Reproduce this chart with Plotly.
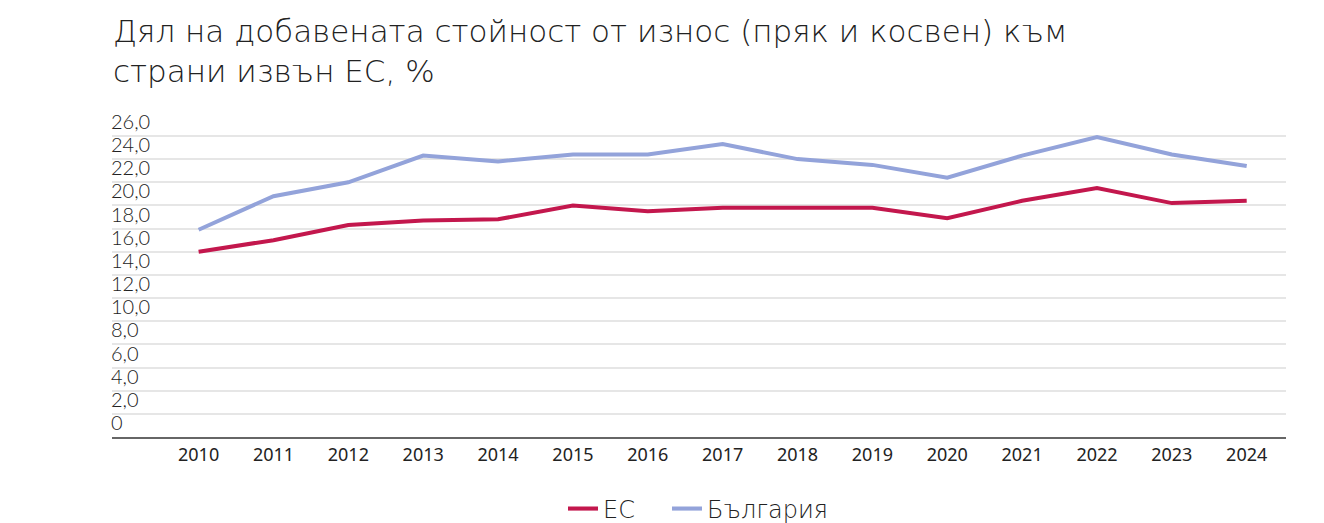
import plotly.graph_objects as go

# data
years = list(range(2010, 2025))
eu_share = [16.0, 17.0, 18.3, 18.7, 18.8, 20.0, 19.5, 19.8, 19.8, 19.8, 18.9, 20.4, 21.5, 20.2, 20.4]
bg_share = [17.9, 20.8, 22.0, 24.3, 23.8, 24.4, 24.4, 25.3, 24.0, 23.5, 22.4, 24.3, 25.9, 24.4, 23.4]
y_ticks = list(range(0, 27, 2))
y_tick_labels = ["0"] + ["%d,0" % v for v in y_ticks[1:]]

title_text = "Дял на добавената стойност от износ (пряк и косвен) към<br>страни извън ЕС, %"

# the page adds an 8px body margin, so the figure is a bit smaller than the window
W, H = 1316, 515

fig = go.Figure()

fig.add_trace(go.Scatter(x=years, y=eu_share, name="ЕС", mode="lines",
                         line=dict(color="#C3174D", width=4), legend="legend"))
fig.add_trace(go.Scatter(x=years, y=bg_share, name="България", mode="lines",
                         line=dict(color="#93A3DA", width=4), legend="legend2"))

legend_font = dict(family="DejaVu Sans", size=24, color="#222222", weight=200)

fig.update_layout(
    width=W,
    height=H,
    margin=dict(l=104, r=38, t=99, b=86),
    plot_bgcolor="white",
    paper_bgcolor="white",
    title=dict(
        text=title_text,
        x=105 / W,
        xanchor="left",
        xref="container",
        y=1 - 34 / H,
        yanchor="top",
        yref="container",
        font=dict(family="DejaVu Sans", size=31, color="#222222", weight=200),
    ),
    # one legend per series so the gap between the two entries can match
    legend=dict(
        orientation="h",
        xref="container",
        yref="container",
        x=555 / W,
        xanchor="left",
        y=14 / H,
        yanchor="middle",
        font=legend_font,
    ),
    legend2=dict(
        orientation="h",
        xref="container",
        yref="container",
        x=659 / W,
        xanchor="left",
        y=14 / H,
        yanchor="middle",
        font=legend_font,
    ),
    showlegend=True,
)

fig.update_xaxes(
    range=[2008.843, 2024.525],
    tickmode="array",
    tickvals=years,
    ticktext=[str(y) for y in years],
    showgrid=False,
    showline=True,
    linecolor="#666666",
    linewidth=2,
    ticks="",
    tickfont=dict(family="Noto Sans", size=18, color="#222222"),
    zeroline=False,
)

# range goes a bit above 26 so the raised top label is not hidden
fig.update_yaxes(
    range=[0, 28.5],
    tickmode="array",
    tickvals=y_ticks,
    ticktext=y_tick_labels,
    ticklabelposition="inside",
    ticklabelshift=-14,
    ticklabelstandoff=-4,
    showgrid=True,
    gridcolor="#E6E6E6",
    gridwidth=1.5,
    showline=False,
    zeroline=False,
    ticks="",
    tickfont=dict(family="Lato", size=20, color="#222222", weight=300),
)

fig.write_html("out.html")
